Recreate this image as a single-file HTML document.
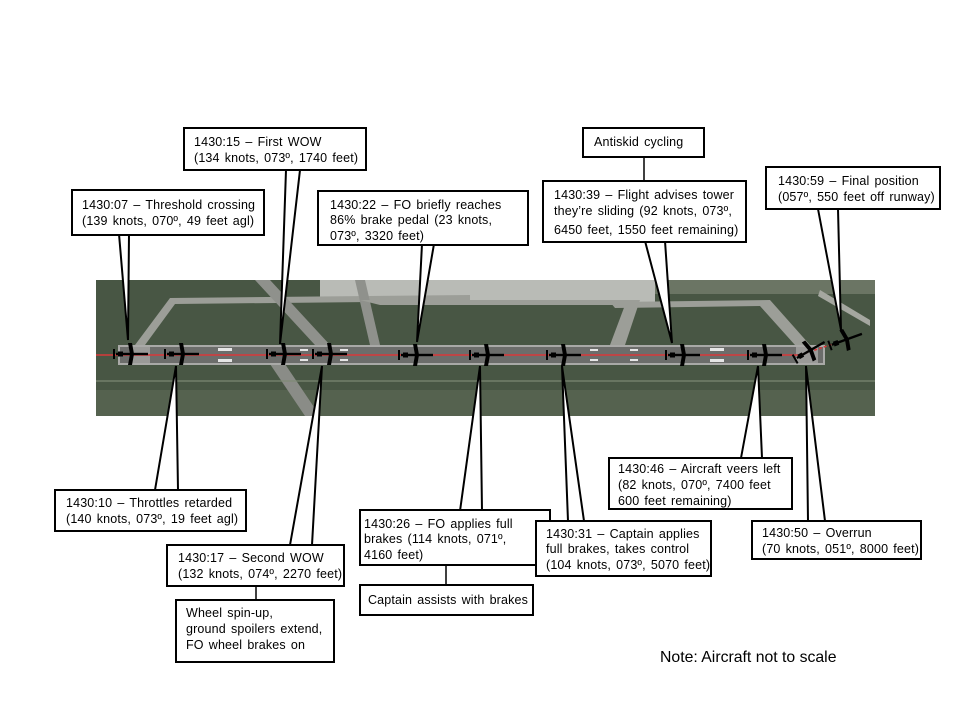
<!DOCTYPE html>
<html><head><meta charset="utf-8"><style>
html,body{margin:0;padding:0;background:#fff}
svg text{font-family:"Liberation Sans",Arial,sans-serif;font-size:12.5px;fill:#000;word-spacing:1.5px;letter-spacing:0.15px}
</style></head><body>
<svg width="960" height="720" viewBox="0 0 960 720" xmlns="http://www.w3.org/2000/svg">
<defs>
<g id="pl"><rect x="-14" y="-1.2" width="32" height="2.4" fill="#000"/><path d="M-2,-11 L2,-11 L4,0 L2,11 L-2,11 L0,0Z" fill="#000"/><rect x="-12" y="-2.5" width="5" height="5" fill="#000"/><rect x="-17" y="-5" width="2" height="10" fill="#000"/></g>
</defs>
<rect x="96" y="280" width="779" height="136" fill="#4d5b48"/>
<rect x="96" y="280" width="779" height="136" fill="#3f4d3c" opacity=".3"/>
<rect x="96" y="390" width="779" height="26" fill="#55624f"/>
<rect x="320" y="280" width="335" height="22" fill="#b9bbb6"/>
<rect x="655" y="280" width="220" height="14" fill="#6b7564"/>
<path d="M135,345 L170,298 L470,295 L470,301 L175,304 L145,345Z" fill="#9c9e98"/>
<path d="M255,280 L270,280 L330,345 L315,345Z" fill="#8f918c"/>
<path d="M270,364 L285,364 L320,416 L305,416Z" fill="#8a8c87"/>
<path d="M355,280 L365,280 L380,345 L370,345Z" fill="#8f918c"/>
<path d="M360,300 L640,300 L625,345 L610,345 L625,305 L380,305Z" fill="#9c9e98"/>
<path d="M610,302 L770,300 L810,345 L795,345 L760,306 L615,308Z" fill="#9c9e98"/>
<path d="M820,290 L870,320 L870,326 L818,296Z" fill="#a5a7a0"/>
<rect x="96" y="380" width="779" height="2" fill="#7e8a74" opacity=".6"/>
<rect x="118" y="345" width="707" height="20" fill="#a9a9a7"/>
<rect x="120" y="347" width="703" height="16" fill="#6c6d6b"/>
<rect x="130" y="347" width="20" height="16" fill="#9a9a98"/>
<rect x="796" y="347" width="22" height="16" fill="#9a9a98"/>
<g fill="#e6e6e6">
<rect x="218" y="348" width="14" height="3"/><rect x="218" y="359" width="14" height="3"/>
<rect x="710" y="348" width="14" height="3"/><rect x="710" y="359" width="14" height="3"/>
<rect x="300" y="349" width="8" height="2"/><rect x="300" y="359" width="8" height="2"/>
<rect x="340" y="349" width="8" height="2"/><rect x="340" y="359" width="8" height="2"/>
<rect x="590" y="349" width="8" height="2"/><rect x="590" y="359" width="8" height="2"/>
<rect x="630" y="349" width="8" height="2"/><rect x="630" y="359" width="8" height="2"/>
</g>
<line x1="96" y1="355" x2="800" y2="355" stroke="#d8383a" stroke-width="1.5"/>
<line x1="800" y1="355" x2="845" y2="340" stroke="#d8383a" stroke-width="1.5" stroke-dasharray="3 2"/>
<use href="#pl" x="130" y="354"/>
<use href="#pl" x="181" y="354"/>
<use href="#pl" x="283" y="354"/>
<use href="#pl" x="329" y="354"/>
<use href="#pl" x="415" y="355"/>
<use href="#pl" x="486" y="355"/>
<use href="#pl" x="563" y="355"/>
<use href="#pl" x="682" y="355"/>
<use href="#pl" x="764" y="355"/>
<use href="#pl" transform="translate(809,351) rotate(-30)"/>
<use href="#pl" transform="translate(845,340) rotate(-20)"/>
<g fill="#fff" stroke="#000" stroke-width="2" stroke-linejoin="miter">
<path d="M119,234 L128,340 L129,234Z"/>
<path d="M286,170 L280,344 L300,170Z"/>
<path d="M422,244 L417,342 L434,244Z"/>
<path d="M645,241 L672,343 L665,241Z"/>
<path d="M818,209 L841,330 L838,209Z"/>
<path d="M155,490 L176,366 L178,490Z"/>
<path d="M290,545 L322,366 L312,545Z"/>
<path d="M460,511 L480,366 L482,511Z"/>
<path d="M568,521 L562,366 L584,521Z"/>
<path d="M741,458 L758,366 L762,458Z"/>
<path d="M808,521 L806,366 L825,521Z"/>
</g>
<g stroke="#000" stroke-width="1.5">
<line x1="644" y1="157" x2="644" y2="181"/>
<line x1="256" y1="586" x2="256" y2="600"/>
<line x1="446" y1="565" x2="446" y2="585"/>
</g>
<g fill="#fff" stroke="#000" stroke-width="2">
<rect x="184" y="128" width="182" height="42"/>
<rect x="72" y="190" width="192" height="45"/>
<rect x="318" y="191" width="210" height="54"/>
<rect x="583" y="128" width="121" height="29"/>
<rect x="543" y="181" width="203" height="61"/>
<rect x="766" y="167" width="174" height="42"/>
<rect x="55" y="490" width="191" height="41"/>
<rect x="167" y="545" width="177" height="41"/>
<rect x="176" y="600" width="158" height="62"/>
<rect x="360" y="510" width="190" height="55"/>
<rect x="360" y="585" width="173" height="30"/>
<rect x="536" y="521" width="175" height="55"/>
<rect x="609" y="458" width="183" height="51"/>
<rect x="752" y="521" width="169" height="38"/>
</g>
<text x="194" y="146">1430:15 – First WOW</text>
<text x="194" y="162">(134 knots, 073º, 1740 feet)</text>
<text x="82" y="209">1430:07 – Threshold crossing</text>
<text x="82" y="225">(139 knots, 070º, 49 feet agl)</text>
<text x="330" y="209">1430:22 – FO briefly reaches</text>
<text x="330" y="224">86% brake pedal (23 knots,</text>
<text x="330" y="240">073º, 3320 feet)</text>
<text x="594" y="146">Antiskid cycling</text>
<text x="554" y="199">1430:39 – Flight advises tower</text>
<text x="554" y="215">they’re sliding (92 knots, 073º,</text>
<text x="554" y="234">6450 feet, 1550 feet remaining)</text>
<text x="778" y="185">1430:59 – Final position</text>
<text x="778" y="201">(057º, 550 feet off runway)</text>
<text x="66" y="507">1430:10 – Throttles retarded</text>
<text x="66" y="523">(140 knots, 073º, 19 feet agl)</text>
<text x="178" y="562">1430:17 – Second WOW</text>
<text x="178" y="578">(132 knots, 074º, 2270 feet)</text>
<text x="186" y="617">Wheel spin-up,</text>
<text x="186" y="633">ground spoilers extend,</text>
<text x="186" y="649">FO wheel brakes on</text>
<text x="364" y="528">1430:26 – FO applies full</text>
<text x="364" y="543">brakes (114 knots, 071º,</text>
<text x="364" y="559">4160 feet)</text>
<text x="368" y="604">Captain assists with brakes</text>
<text x="546" y="538">1430:31 – Captain applies</text>
<text x="546" y="553">full brakes, takes control</text>
<text x="546" y="569">(104 knots, 073º, 5070 feet)</text>
<text x="618" y="473">1430:46 – Aircraft veers left</text>
<text x="618" y="489">(82 knots, 070º, 7400 feet</text>
<text x="618" y="505">600 feet remaining)</text>
<text x="762" y="537">1430:50 – Overrun</text>
<text x="762" y="553">(70 knots, 051º, 8000 feet)</text>
<text x="660" y="662" style="font-size:15.8px;word-spacing:0;letter-spacing:0">Note: Aircraft not to scale</text>
</svg>
</body></html>
